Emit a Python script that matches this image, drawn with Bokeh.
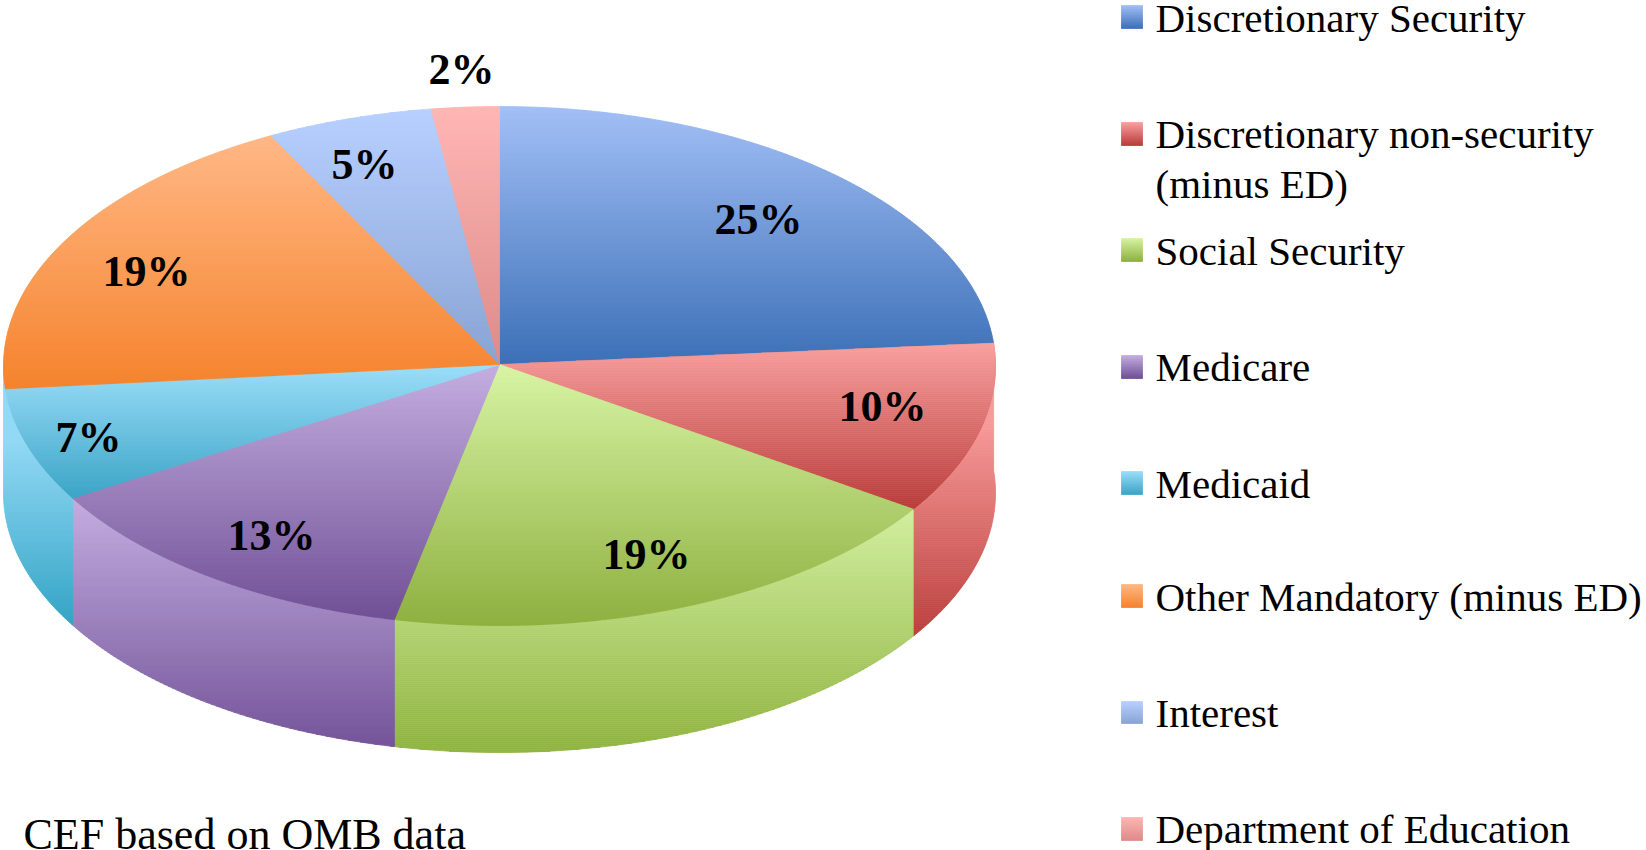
import math
from bokeh.plotting import figure
from bokeh.models import Range1d, ColumnDataSource
from bokeh.core.properties import value
from bokeh.embed import file_html
from bokeh.resources import INLINE

# ---- data ----
categories = ["Discretionary Security", "Discretionary non-security", "Social Security", "Medicare",
              "Medicaid", "Other Mandatory (minus ED)", "Interest", "Department of Education"]
legend_second_line = ["", "(minus ED)", "", "", "", "", "", ""]
percent_labels = [25, 10, 19, 13, 7, 19, 5, 2]
# share of the circle each slice occupies as drawn (perspective makes it differ slightly from its label)
drawn_shares = [23.6, 10.7, 19.1, 13.1, 7.1, 18.8, 5.4, 2.2]
source_note = "CEF based on OMB data"

top_light = ["#a2bff6", "#f9a09f", "#d7f4a4", "#c4aee0", "#9bdef9", "#ffb886", "#b8d0ff", "#ffb6b4"]
top_dark = ["#3b6fb6", "#b93c3a", "#8db03f", "#6f4f95", "#3ba4c6", "#f5822c", "#88a4d3", "#dc8a88"]
wall_light = ["#a2bff6", "#f89b9a", "#d0ee9d", "#c3aee0", "#92d9f5", "#ffb886", "#b8d0ff", "#ffb6b4"]
wall_dark = ["#3b6fb6", "#bb403e", "#8fb340", "#75559a", "#35a4c5", "#f5822c", "#88a4d3", "#dc8a88"]

# ---- layout (page pixels) ----
W, H = 1646, 850
APEX = (499.0, 364.0)
CX, CY, RX, RY, DEPTH = 499.0, 365.5, 496.0, 259.5, 127.0
BAND = 2.0
WALL_FROM, WALL_TO = math.radians(85), math.radians(270)
LAST_WALL = 4  # the Medicaid wall runs round to the drum's left edge
wall_gradient_top = {1: 420.0, 4: 440.0}
label_xy = [(758, 219), (882, 406), (646, 554), (271, 535), (88, 437), (146, 271), (364, 164), (461, 69)]
swatch_x = (1121, 1142)
swatch_y = [(5, 28), (122, 145), (238, 261), (355, 378), (471, 494), (584, 607), (701, 723), (817, 840)]
legend_x = 1155
TEXT_RISE = 15  # Bokeh draws an alphabetic baseline this far below the anchor at these sizes
legend_base = [32, 148, 265, 381, 498, 611, 727, 843]
legend_base2 = 198


def hex_rgb(h):
    return tuple(int(h[i:i + 2], 16) for i in (1, 3, 5))


def mix(a, b, t):
    t = max(0.0, min(1.0, t))
    ca, cb = hex_rgb(a), hex_rgb(b)
    return "#%02x%02x%02x" % tuple(round(x + (y - x) * t) for x, y in zip(ca, cb))


def clip_half(poly, y0, keep_below):
    out = []
    n = len(poly)
    for i in range(n):
        a, b = poly[i], poly[(i + 1) % n]
        ina = a[1] >= y0 if keep_below else a[1] <= y0
        inb = b[1] >= y0 if keep_below else b[1] <= y0
        if ina:
            out.append(a)
        if ina != inb:
            t = (y0 - a[1]) / (b[1] - a[1])
            out.append((a[0] + (b[0] - a[0]) * t, y0))
    return out


def add_gradient(poly, c0, c1, xs, ys, cols, grad_top=None):
    top = min(p[1] for p in poly)
    bot = max(p[1] for p in poly)
    g0 = top if grad_top is None else grad_top
    y = top
    while y < bot:
        y2 = min(y + BAND, bot)
        piece = clip_half(clip_half(poly, y, True), y2, False)
        if len(piece) >= 3:
            xs.append([p[0] for p in piece])
            ys.append([p[1] for p in piece])
            cols.append(mix(c0, c1, ((y + y2) / 2 - g0) / (bot - g0)))
        y = y2


def rim(theta, drop=0.0):
    return (CX + RX * math.sin(theta), CY - RY * math.cos(theta) + drop)


def arc(a0, a1, drop=0.0):
    n = max(3, int(abs(a1 - a0) * 90))
    return [rim(a0 + (a1 - a0) * i / n, drop) for i in range(n + 1)]


total = sum(drawn_shares)
edges = [0.0]
for s in drawn_shares:
    edges.append(edges[-1] + s / total * 2 * math.pi)

p = figure(width=W, height=H, x_range=Range1d(0, W), y_range=Range1d(H, 0),
           x_axis_type=None, y_axis_type=None, toolbar_location=None, output_backend="svg",
           min_border=0, outline_line_color=None, background_fill_color="white")
p.grid.visible = False

xs, ys, cols = [], [], []
# side walls first: only the front of the drum can be seen
for i in range(LAST_WALL + 1):
    a0c = max(edges[i], WALL_FROM)
    a1c = WALL_TO if i == LAST_WALL else edges[i + 1]
    if a0c >= a1c:
        continue
    poly = arc(a0c, a1c) + arc(a1c, a0c, DEPTH)
    add_gradient(poly, wall_light[i], wall_dark[i], xs, ys, cols, wall_gradient_top.get(i))
# top faces
for i in range(8):
    poly = [APEX] + arc(edges[i], edges[i + 1])
    add_gradient(poly, top_light[i], top_dark[i], xs, ys, cols)
# legend swatches
for i in range(8):
    x0, x1 = swatch_x
    y0, y1 = swatch_y[i]
    add_gradient([(x0, y0), (x1, y0), (x1, y1), (x0, y1)], top_light[i], top_dark[i], xs, ys, cols)

src = ColumnDataSource(dict(xs=xs, ys=ys, c=cols))
p.patches("xs", "ys", source=src, fill_color="c", line_color="c", line_width=0.8)

SERIF = value("Liberation Serif")
p.text(x=[q[0] for q in label_xy], y=[q[1] for q in label_xy], text=["%d%%" % v for v in percent_labels],
       text_font=SERIF, text_font_size="44px", text_font_style="bold", text_color="black",
       text_align="center", text_baseline="middle")

leg_t = list(categories) + [t for t in legend_second_line if t]
leg_y = [b - TEXT_RISE for b in legend_base] + [legend_base2 - TEXT_RISE]
p.text(x=[legend_x] * len(leg_t), y=leg_y, text=leg_t, text_font=SERIF, text_font_size="41px",
       text_color="black", text_align="left", text_baseline="alphabetic")

p.text(x=[23], y=[834], text=[source_note], text_font=SERIF, text_font_size="44px",
       text_color="black", text_align="left", text_baseline="alphabetic")

open("out.html", "w").write(file_html(p, INLINE))
